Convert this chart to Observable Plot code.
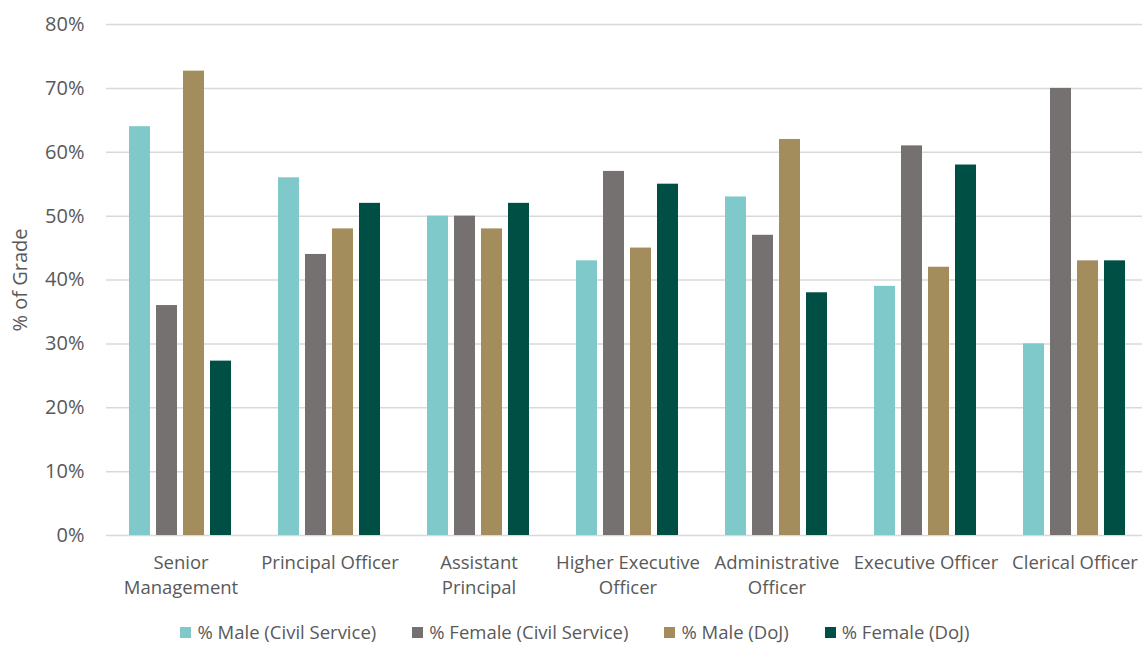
<!DOCTYPE html>
<html>
<head>
<meta charset="utf-8">
<script src="https://cdn.jsdelivr.net/npm/d3@7"></script>
<script src="https://cdn.jsdelivr.net/npm/@observablehq/plot@0.6"></script>
<style>
  html, body { margin: 0; padding: 0; background: #fff; }
  body { width: 1142px; height: 646px; overflow: hidden; position: relative; font-family: "Open Sans", "Lato", sans-serif; }
  #chart { width: 1150px; }
  #legend { position: absolute; left: 0; top: 620px; width: 1150px; height: 24px; line-height: 24px; display: flex; justify-content: center; align-items: center; color: #595959; font-size: 18.5px; font-family: "Open Sans", sans-serif; }
  .item { display: flex; align-items: center; margin: 0 18px; }
  .sw { width: 11px; height: 11px; margin-right: 6px; }
</style>
</head>
<body>
<div id="chart"></div>
<div id="legend"></div>
<script>
const categories = ["Senior Management", "Principal Officer", "Assistant Principal", "Higher Executive Officer", "Administrative Officer", "Executive Officer", "Clerical Officer"];
const categoryLabels = ["Senior\nManagement", "Principal Officer", "Assistant\nPrincipal", "Higher Executive\nOfficer", "Administrative\nOfficer", "Executive Officer", "Clerical Officer"];
const seriesNames = ["% Male (Civil Service)", "% Female (Civil Service)", "% Male (DoJ)", "% Female (DoJ)"];
const seriesColors = ["#7fc9ca", "#767171", "#a38d5d", "#004f44"];
const maleCS = [64, 56, 50, 43, 53, 39, 30];
const femaleCS = [36, 44, 50, 57, 47, 61, 70];
const maleDoJ = [72.7, 48, 48, 45, 62, 42, 43];
const femaleDoJ = [27.3, 52, 52, 55, 38, 58, 43];
const yTicks = [0, 10, 20, 30, 40, 50, 60, 70, 80];

const seriesValues = [maleCS, femaleCS, maleDoJ, femaleDoJ];
const data = [];
categories.forEach((c, i) => {
  seriesNames.forEach((s, j) => data.push({category: c, series: s, value: seriesValues[j][i]}));
});
const labelOf = new Map(categories.map((c, i) => [c, categoryLabels[i]]));

const chart = Plot.plot({
  width: 1150,
  height: 612,
  marginTop: 24,
  marginLeft: 105,
  marginRight: 0,
  marginBottom: 77,
  style: {fontFamily: "'Open Sans', sans-serif", color: "#595959", background: "white"},
  fx: {domain: categories, padding: 0},
  x: {domain: seriesNames, paddingInner: 0.22, paddingOuter: 0.86, axis: null},
  y: {domain: [0, 80]},
  color: {domain: seriesNames, range: seriesColors},
  marks: [
    Plot.gridY(yTicks, {stroke: "#d9d9d9", strokeOpacity: 1, strokeWidth: 1.5}),
    Plot.barY(data, {fx: "category", x: "series", y: "value", fill: "series"}),
    Plot.axisY(yTicks, {
      tickSize: 0, tickPadding: 22, fontSize: 20, tickFormat: d => d + "%",
      label: "% of Grade", labelAnchor: "center", labelArrow: "none", labelOffset: 94
    }),
    Plot.axisFx({anchor: "bottom", tickSize: 0, tickPadding: 16, fontSize: 18.5, lineHeight: 1.35, tickFormat: d => labelOf.get(d), label: null})
  ]
});
document.getElementById("chart").appendChild(chart);

const legend = document.getElementById("legend");
seriesNames.forEach((s, j) => {
  const item = document.createElement("div");
  item.className = "item";
  const sw = document.createElement("span");
  sw.className = "sw";
  sw.style.background = seriesColors[j];
  const t = document.createElement("span");
  t.textContent = s;
  item.appendChild(sw);
  item.appendChild(t);
  legend.appendChild(item);
});
</script>
</body>
</html>
